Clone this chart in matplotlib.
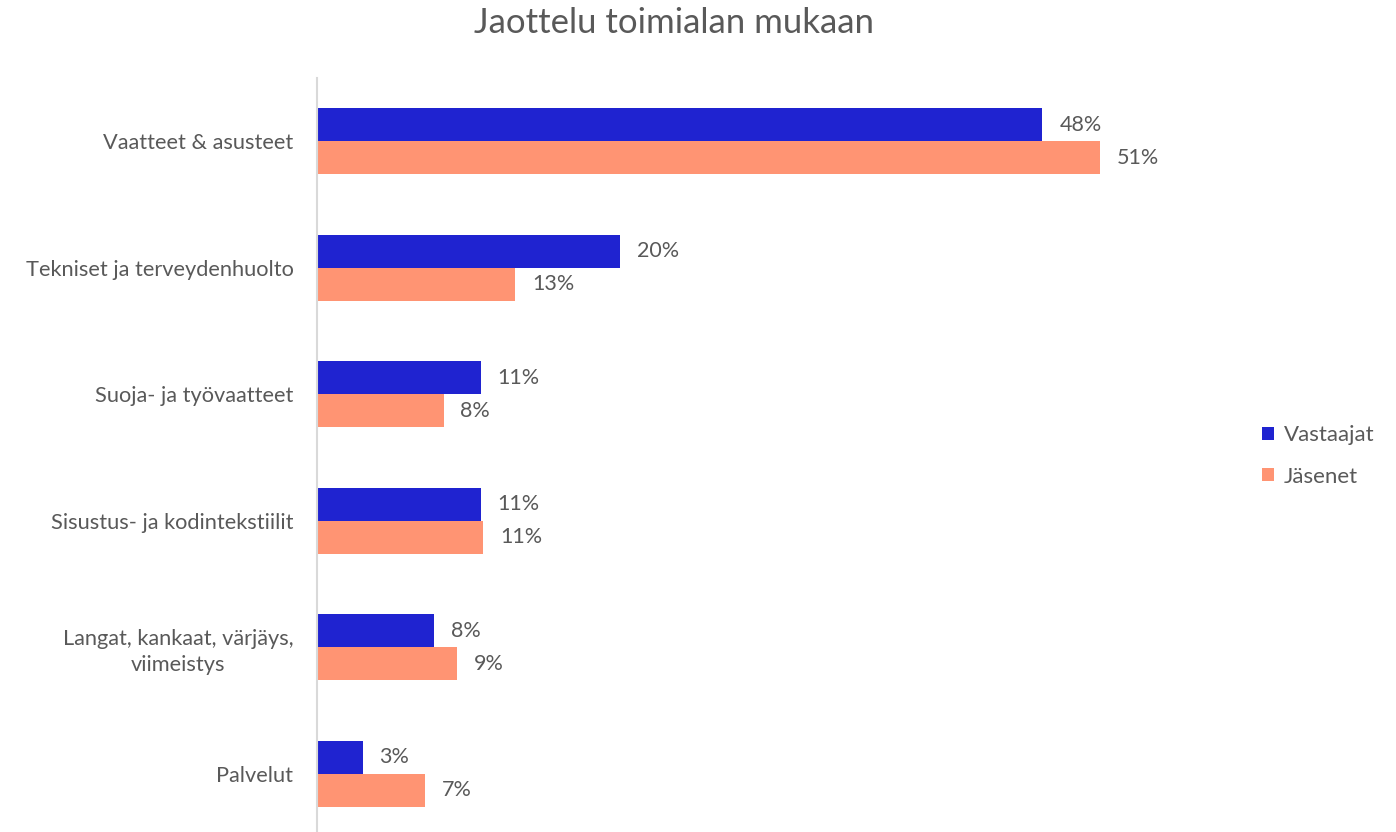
import numpy as np
import matplotlib
matplotlib.use("Agg")
from matplotlib import pyplot as plt

plt.rcParams['font.family'] = ['Lato', 'DejaVu Sans']

# data
categories = ["Vaatteet & asusteet", "Tekniset ja terveydenhuolto",
              "Suoja- ja työvaatteet", "Sisustus- ja kodintekstiilit",
              "Langat, kankaat, värjäys,\nviimeistys", "Palvelut"]
vastaajat = [0.476, 0.199, 0.1075, 0.1075, 0.077, 0.030]
jasenet = [0.514, 0.130, 0.083, 0.109, 0.092, 0.071]
series_names = ["Vastaajat", "Jäsenet"]

blue = "#1F23D0"
orange = "#FF9473"
txt = "#595959"

fig = plt.figure(figsize=(13.96, 8.32), dpi=100)
ax = fig.add_axes([317/1396, -0.006, 884/1396, 1 - 78/832 + 0.006])

y = np.arange(len(categories))
h = 0.262
b1 = ax.barh(y - h/2, vastaajat, height=h, color=blue, label=series_names[0])
b2 = ax.barh(y + h/2, jasenet, height=h, color=orange, label=series_names[1])

for bars, vals in ((b1, vastaajat), (b2, jasenet)):
    for bar, v in zip(bars, vals):
        ax.text(bar.get_width() + 0.011, bar.get_y() + bar.get_height()/2,
                f"{v:.0%}", va="center", ha="left", fontsize=15.5, color=txt)

ax.set_ylim(len(categories) - 0.5, -0.5)
ax.set_xlim(0, 0.58)
ax.set_yticks(y)
ax.set_yticklabels(categories, fontsize=15.7, color=txt, multialignment="center",
                   linespacing=1.35)
ax.tick_params(axis="y", length=0, pad=17)
ax.set_xticks([])
for s in ["top", "right", "bottom"]:
    ax.spines[s].set_visible(False)
ax.spines["left"].set_color("#D9D9D9")
ax.spines["left"].set_linewidth(1.5)

fig.text(0.483, 0.972, "Jaottelu toimialan mukaan", ha="center", va="center",
         fontsize=25, color=txt)

fig.legend(handles=[b1, b2], loc="center left", bbox_to_anchor=(1242/1396, 1 - 456/832),
           frameon=False, fontsize=16, labelcolor=txt, handlelength=0.55,
           handleheight=0.55, handletextpad=0.45, labelspacing=0.95)

fig.savefig("out.png", dpi=100)
